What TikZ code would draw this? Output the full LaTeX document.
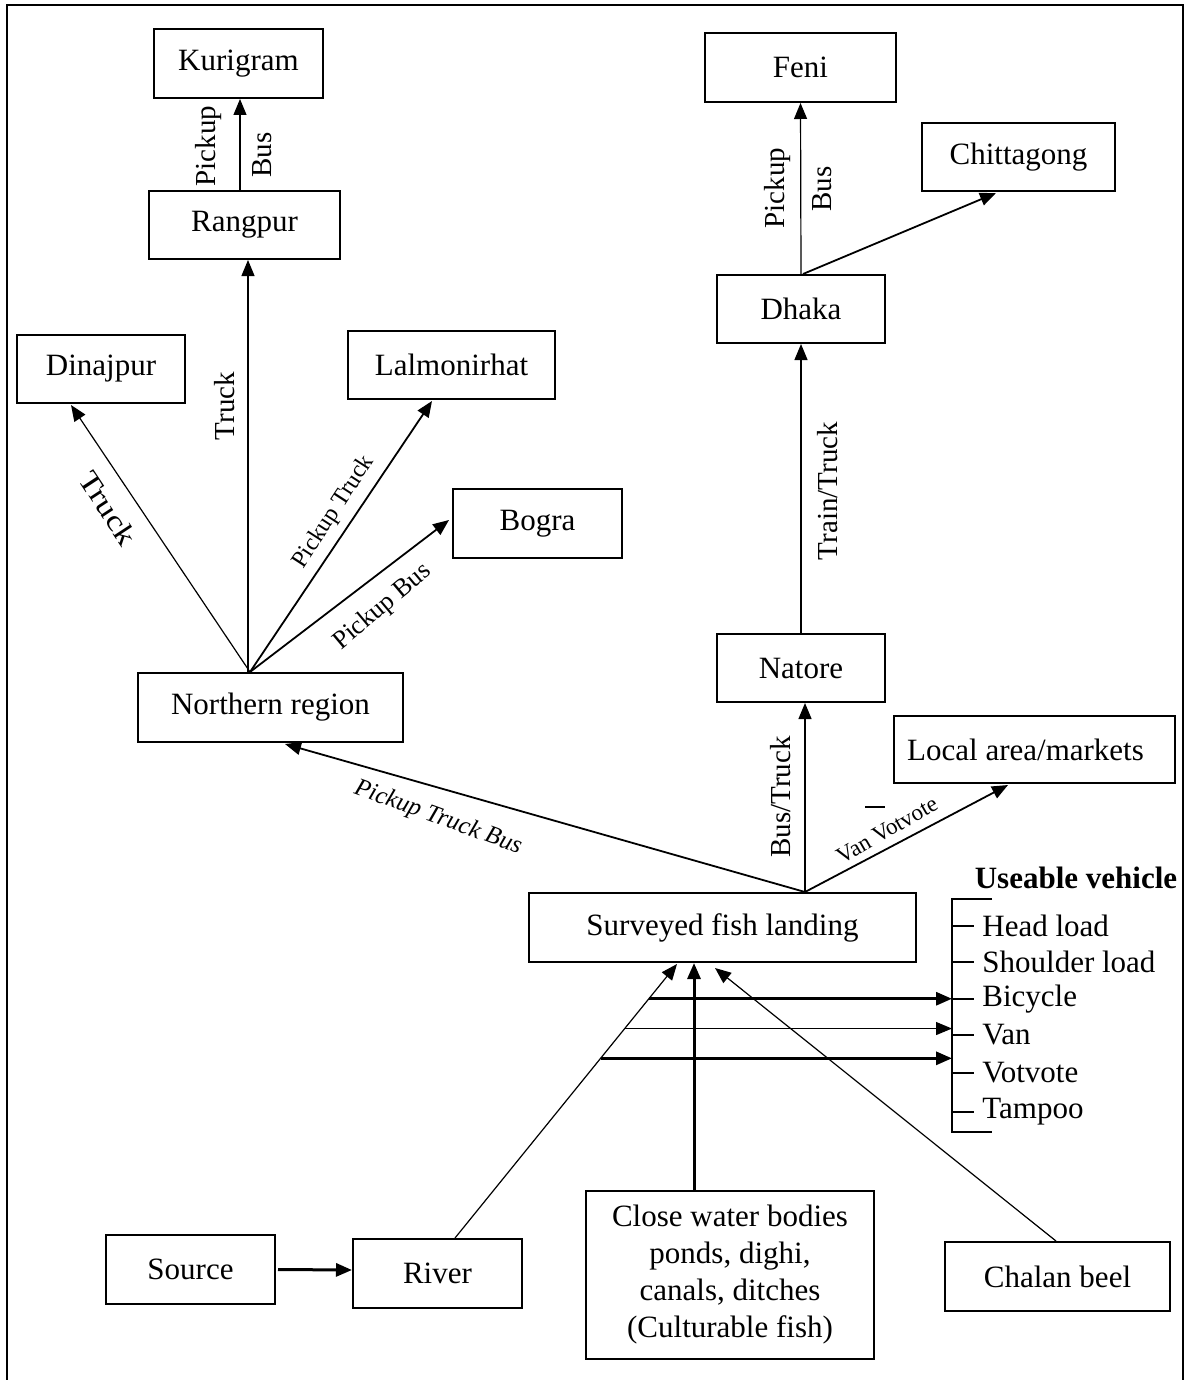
\documentclass[tikz,border=0pt]{standalone}
\usepackage{fontspec}
\setmainfont{Liberation Serif}
\usetikzlibrary{arrows.meta,calc}
\begin{document}
\begin{tikzpicture}[x=0.5pt,y=-0.5pt,
  box/.style={draw,line width=1pt,inner sep=0pt,align=center,font=\fontsize{15.5pt}{18.5pt}\selectfont},
  lbl/.style={inner sep=0pt,font=\fontsize{14.5pt}{17pt}\selectfont},
  item/.style={inner sep=0pt,anchor=west,font=\fontsize{15.5pt}{18.5pt}\selectfont},
  tipped/.style={-{Triangle[length=8pt,width=6.5pt]}},
  athin/.style={tipped,line width=0.6pt},
  amed/.style={tipped,line width=0.9pt},
  athick/.style={tipped,line width=1.5pt},
  plain/.style={line width=0.9pt}
]
\useasboundingbox (0,0) rectangle (1190,1380);
\draw[line width=1pt] (7,1380) -- (7,5) -- (1183,5) -- (1183,1380);

% boxes
\node[box,minimum width=84.5pt,minimum height=34.5pt] (kur) at (238.5,63.5) {Kurigram};
\node[box,minimum width=95.5pt,minimum height=34pt] (ran) at (244.5,225) {Rangpur};
\node[box,minimum width=95.5pt,minimum height=34.5pt] (fen) at (800.5,67.5) {Feni};
\node[box,minimum width=96.5pt,minimum height=34pt] (chi) at (1018.5,157) {Chittagong};
\node[box,minimum width=84pt,minimum height=34pt] (dha) at (801,309) {Dhaka};
\node[box,minimum width=84pt,minimum height=34pt] (din) at (101,369) {Dinajpur};
\node[box,minimum width=103.5pt,minimum height=34pt] (lal) at (451.5,365) {Lalmonirhat};
\node[box,minimum width=84.5pt,minimum height=34.5pt] (bog) at (537.5,523.5) {Bogra};
\node[box,minimum width=132.5pt,minimum height=34.5pt] (nor) at (270.5,707.5) {Northern region};
\node[box,minimum width=84pt,minimum height=34pt] (nat) at (801,668) {Natore};
\node[box,minimum width=140.5pt,minimum height=33.5pt] (loc) at (1034.5,749.5) {Local area/markets\hspace*{9pt}};
\node[box,minimum width=193.5pt,minimum height=34.5pt] (sur) at (722.5,927.5) {Surveyed fish landing};
\node[box,minimum width=84.5pt,minimum height=34.5pt] (sou) at (190.5,1269.5) {Source};
\node[box,minimum width=84.5pt,minimum height=34.5pt] (riv) at (437.5,1273.5) {River};
\node[box,minimum width=144pt,minimum height=84pt] (clo) at (730,1275) {Close water bodies\\ponds, dighi,\\canals, ditches\\(Culturable fish)};
\node[box,minimum width=112.5pt,minimum height=34.5pt] (cha) at (1057.5,1276.5) {Chalan beel};

% northern network
\draw[athin] ($(ran.north)+(-4.5,0)$) -- ($(kur.south)+(1.5,0)$);
\coordinate (nfan) at ($(nor.north)+(-20.5,0)$);
\draw[athin] (nfan) -- ($(din.south)+(-30,1)$);
\draw[athin] ($(nor.north)+(-22.5,0)$) -- ($(ran.south)+(3.5,0)$);
\draw[amed] (nfan) -- ($(lal.south)+(-19.5,1)$);
\draw[amed] (nfan) -- ($(bog.west)+(-3,-3.5)$);

% eastern network
\coordinate (sfan) at ($(sur.north)+(82.5,0)$);
\draw[amed] (sfan) -- ($(nor.south)+(14.5,1)$);
\draw[athin] ($(sur.north)+(82.5,0)$) -- ($(nat.south)+(4,0)$);
\draw[amed] (sfan) -- ($(loc.south)+(-26.5,1)$);
\draw[athin] (nat.north) -- (dha.south);
\draw[athin] (dha.north) -- (fen.south);
\draw[amed] ($(dha.north)+(2,0)$) -- ($(chi.south)+(-22.5,1)$);

% sources
\draw[athick] (sou.east) ++(2,0) coordinate (souE) (souE) -- ($(riv.west)+(0,-3.5)$);
\coordinate (rs) at ($(riv.north)+(17.5,0)$);
\coordinate (rt) at ($(sur.south)+(-45.5,1)$);
\draw[athin] (rs) -- (rt);
\draw[athick] ($(clo.north)+(-36,0)$) -- ($(sur.south)+(-28.5,0)$);
\draw[athin] ($(cha.north)+(-1.5,0)$) -- ($(sur.south)+(-7.5,5)$);

% useable vehicle list
\node[inner sep=0pt,font=\fontsize{15.5pt}{18.5pt}\selectfont\bfseries] (uv) at (1076,878) {Useable vehicle};
\coordinate (brT) at (952,899);
\coordinate (brB) at (952,1132);
\draw[plain] (992,899) -- (brT) -- (brB) -- (992,1132);
\node[item] (i1) at (982,926) {Head load};
\node[item] (i2) at (982,962) {Shoulder load};
\node[item] (i3) at (982,999) {Bicycle};
\node[item] (i4) at (982,1035) {Van};
\node[item] (i5) at (982,1073) {Votvote};
\node[item] (i6) at (982,1112) {Tampoo};
\foreach \i in {i1,i2,i3,i4,i5,i6} \draw[plain] (\i.west -| brT) -- ++(22,0);

% horizontal arrows from river line to list
\coordinate (h1) at ($(rs)!0.8732!(rt)$);
\coordinate (h2) at ($(rs)!0.7645!(rt)$);
\coordinate (h3) at ($(rs)!0.6558!(rt)$);
\draw[athick] (h1) -- (h1 -| brT);
\draw[athin] (h2) -- (h2 -| brT);
\draw[athick] (h3) -- (h3 -| brT);

% labels
\node[lbl,rotate=90] (l1) at (209,146) {Pickup};
\node[lbl,rotate=90] (l2) at (262,155) {Bus};
\node[lbl,rotate=90] (l3) at (778,188) {Pickup};
\node[lbl,rotate=90] (l4) at (822,189) {Bus};
\node[lbl,rotate=90] (l5) at (225,406) {Truck};
\node[lbl,rotate=-56.7,xscale=1.2] (l6) at (108,508) {Truck};
\node[lbl,rotate=57,font=\fontsize{12pt}{14pt}\selectfont] (l7) at (334,512) {Pickup Truck};
\node[lbl,rotate=40,font=\fontsize{13pt}{15pt}\selectfont] (l8) at (383,607) {Pickup Bus};
\node[lbl,rotate=-20,font=\fontsize{12.5pt}{15pt}\selectfont\itshape] (l9) at (438,818) {Pickup Truck Bus};
\node[lbl,rotate=90] (l10) at (828,491) {Train/Truck};
\node[lbl,rotate=90] (l11) at (781,797) {Bus/Truck};
\node[lbl,rotate=30,font=\fontsize{11.5pt}{14pt}\selectfont] (l12) at (887,830) {Van Votvote};
\coordinate (d1) at (865,807);
\coordinate (d2) at (885,807);
\draw[line width=0.6pt] (d1) -- (d2);
\end{tikzpicture}
\end{document}
